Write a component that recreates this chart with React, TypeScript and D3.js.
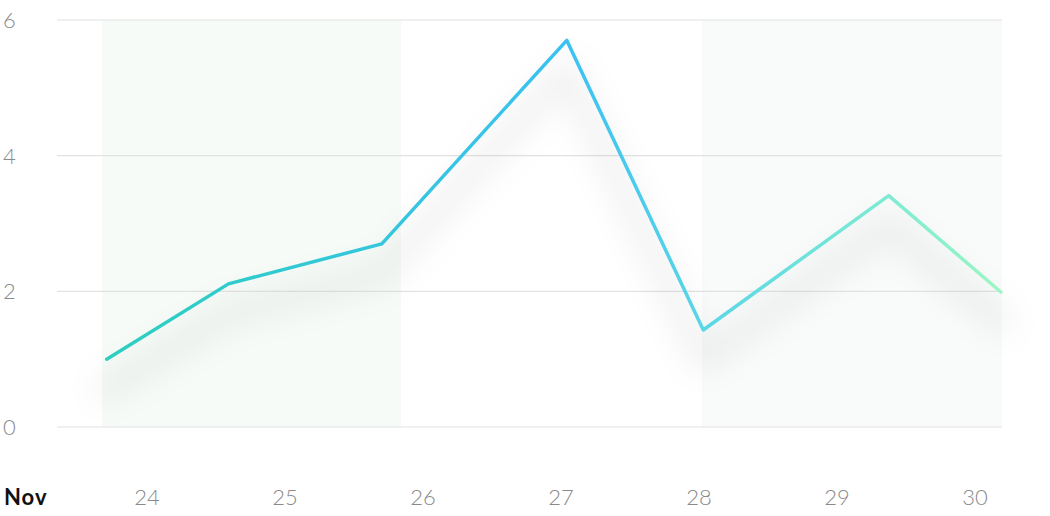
import React from "react";
import * as d3 from "d3";

const pointTimes = [
  Date.UTC(2023, 10, 23, 17, 0),
  Date.UTC(2023, 10, 24, 14, 10),
  Date.UTC(2023, 10, 25, 16, 50),
  Date.UTC(2023, 10, 27, 1, 0),
  Date.UTC(2023, 10, 28, 0, 45),
  Date.UTC(2023, 10, 29, 9, 0),
  Date.UTC(2023, 10, 30, 4, 30),
];
const pointValues = [1.0, 2.11, 2.7, 5.7, 1.43, 3.41, 1.99];
const yTicks = [0, 2, 4, 6];
const xTickDays = [24, 25, 26, 27, 28, 29, 30];
const monthLabel = "Nov";
const bandStarts = [Date.UTC(2023, 10, 23, 16, 10), Date.UTC(2023, 10, 28, 0, 30)];
const bandEnds = [Date.UTC(2023, 10, 25, 20, 10), Date.UTC(2023, 10, 30, 4, 42)];
const bandColors = ["#f6fbf7", "#f9fbfb"];
const domainStart = Date.UTC(2023, 10, 23, 8, 21);
const domainEnd = Date.UTC(2023, 10, 30, 4, 42);

export default function App() {
  const W = 1050, H = 516;
  const left = 57, right = 1002, top = 20, bottom = 427;
  const x = d3.scaleUtc().domain([domainStart, domainEnd]).range([left, right]);
  const y = d3.scaleLinear().domain([0, 6]).range([bottom, top]);
  const data = pointTimes.map((t, i) => ({ t, v: pointValues[i] }));
  const line = d3.line<{ t: number; v: number }>().x(d => x(d.t)).y(d => y(d.v));
  const path = line(data) || "";
  const x0 = x(pointTimes[0]);
  const x1 = x(pointTimes[pointTimes.length - 1]);
  const frac = (i: number) => ((x(pointTimes[i]) - x0) / (x1 - x0)) * 100;
  const font = "Lato, 'Open Sans', sans-serif";
  return (
    <svg width={W} height={H} style={{ position: "absolute", left: 0, top: 0 }}>
      <defs>
        <linearGradient id="lg" gradientUnits="userSpaceOnUse" x1={x0} x2={x1} y1={0} y2={0}>
          <stop offset="0%" stopColor="#2dcfc0" />
          <stop offset={`${frac(2)}%`} stopColor="#34c6dc" />
          <stop offset={`${frac(3)}%`} stopColor="#3bc1f2" />
          <stop offset={`${frac(4)}%`} stopColor="#5ad6e6" />
          <stop offset={`${frac(5)}%`} stopColor="#7eebd2" />
          <stop offset="100%" stopColor="#9cf6c3" />
        </linearGradient>
        <filter id="blur" x="-20%" y="-50%" width="140%" height="200%">
          <feGaussianBlur stdDeviation="15" />
        </filter>
      </defs>
      {bandStarts.map((s, i) => (
        <rect key={i} x={x(s)} y={top} width={x(bandEnds[i]) - x(s)} height={bottom - top} fill={bandColors[i]} />
      ))}
      {yTicks.map(t => (
        <g key={t}>
          <line x1={left} x2={right} y1={y(t)} y2={y(t)} stroke="#e2e2e2" strokeWidth={1.2} />
          <text x={3} y={y(t) + 8} fontFamily={font} fontWeight={300} fontSize={22} fill="#8a8a8a">{t}</text>
        </g>
      ))}
      <path d={path} transform="translate(0,30)" fill="none" stroke="#000" strokeOpacity={0.05} strokeWidth={26} strokeLinejoin="round" strokeLinecap="round" filter="url(#blur)" />
      <path d={path} fill="none" stroke="url(#lg)" strokeWidth={3.5} strokeLinejoin="round" strokeLinecap="round" />
      {xTickDays.map(d => (
        <text key={d} x={x(Date.UTC(2023, 10, d))} y={505} textAnchor="middle" fontFamily={font} fontWeight={300} fontSize={22} fill="#8a8a8a">{d}</text>
      ))}
      <text x={4} y={505} fontFamily={font} fontWeight={700} fontSize={22} letterSpacing={1} fill="#111">{monthLabel}</text>
    </svg>
  );
}
